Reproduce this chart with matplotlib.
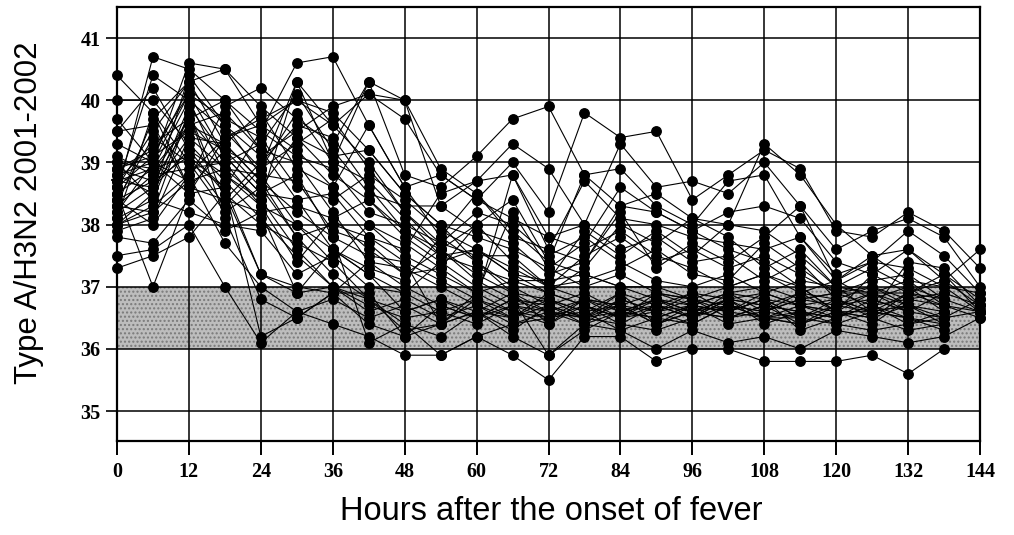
import numpy as np
import matplotlib
matplotlib.use("Agg")
import matplotlib.pyplot as plt

n = np.nan
hours = [0, 6, 12, 18, 24, 30, 36, 42, 48, 54, 60, 66, 72, 78, 84, 90, 96, 102, 108, 114, 120, 126, 132, 138, 144]
xtick_labels = ["0", "12", "24", "36", "48", "60", "72", "84", "96", "108", "120", "132", "144"]
ytick_values = [35, 36, 37, 38, 39, 40, 41]
normal_low, normal_high = 36.0, 37.0

# body temperature of each patient (deg C), one row per patient, one value per 6 h
patients = [
    [38.2, 38.6, 39.4, 38.9, 38.4, 37.6, 37.0, 36.7, 36.5, 36.6, 36.4, 36.7, 36.5, 36.8, 36.6, 36.5, 36.7, 36.6, 36.8, 36.5, n, n, n, n, n],
    [38.9, 39.1, 40.2, 39.6, 38.8, 38.0, 37.4, 36.8, 36.4, 36.2, 36.6, 36.5, 36.7, 36.4, 36.6, 36.8, 36.5, 36.7, n, n, n, n, n, n, n],
    [40.4, 39.8, 39.0, 38.6, 37.2, 36.9, 37.0, 36.6, 36.8, 36.5, 36.7, 36.4, 36.6, 36.5, 36.7, 36.4, 36.6, 36.8, 36.5, 36.4, 36.6, n, n, n, n],
    [38.5, 40.7, 40.5, 40.0, 39.2, 38.4, 37.6, 37.2, 36.9, 36.6, 36.8, 36.6, 36.4, 36.7, 36.5, 36.6, 36.8, 36.7, 36.6, 36.8, 36.7, 36.6, 36.5, n, n],
    [39.0, 38.4, 39.8, 38.1, 36.8, 36.5, 36.9, 36.4, 36.2, 36.7, 36.5, 36.8, 35.9, 36.3, 36.6, 36.7, 36.5, 36.8, 36.4, 36.6, 36.5, n, n, n, n],
    [37.5, 37.6, 38.0, 37.0, 36.1, 36.6, 36.8, 36.5, 36.7, 36.4, 36.6, 36.3, 36.7, 36.5, 36.4, 36.7, 36.6, 36.5, 36.7, 36.6, n, n, n, n, n],
    [38.3, 39.7, 40.3, 39.3, 38.7, 37.8, 37.2, 36.8, 36.6, 36.8, 36.5, 36.7, 36.6, 36.4, 36.8, 36.6, 36.4, 36.7, 36.5, 36.7, 36.6, 36.5, 36.7, 36.6, n],
    [38.7, 38.9, 39.6, 39.8, 39.2, 39.0, 38.2, 37.4, 37.0, 36.7, 36.5, 36.8, 36.7, 36.5, 36.6, 36.5, 36.7, 36.6, 36.8, 36.5, 36.7, 36.8, 36.6, 36.5, 36.6],
    [38.0, 38.3, 38.8, 39.4, 39.6, 39.2, 38.6, 38.0, 37.5, 37.2, 36.9, 36.6, 36.5, 36.7, 36.5, 36.8, 36.6, 36.7, 36.6, 36.5, 36.8, 36.6, 36.7, n, n],
    [39.3, 39.0, 40.6, 40.5, 39.9, 39.4, 38.8, 38.4, 37.8, 37.4, 37.0, 36.7, 36.8, 36.6, 36.9, 36.7, 36.5, 36.8, 36.7, 36.6, 36.5, 36.7, 36.4, 36.6, n],
    [38.6, 40.4, 40.0, 39.5, 38.9, 40.3, 39.6, 39.0, 38.2, 37.6, 37.2, 36.9, 36.6, 36.8, 36.5, 36.7, 36.9, 36.6, 36.8, 36.7, 36.6, 36.9, 36.7, 36.5, 36.8],
    [37.3, 37.5, 37.8, 38.5, 37.2, 37.0, 36.9, 37.4, 37.3, 37.0, 36.7, 36.5, 36.8, 36.6, 36.7, 36.4, 36.6, 36.5, 36.7, 36.4, 36.6, 36.5, 36.3, 36.4, n],
    [38.4, 38.7, 39.1, 38.6, 39.5, 40.6, 40.7, 39.6, 38.6, 37.8, 37.4, 37.0, 36.7, 36.9, 36.6, 36.8, 36.7, 36.9, 36.6, 36.8, 36.9, 36.7, 36.8, 36.7, 36.6],
    [39.5, 40.2, 39.2, 38.8, 38.3, 37.4, 38.1, 37.6, 37.2, 37.6, 37.1, 36.8, 36.6, 36.5, 36.8, 36.6, 36.7, 36.6, 36.9, 36.7, 36.5, 36.8, 36.6, n, n],
    [38.8, 38.5, 39.9, 39.1, 38.5, 38.8, 37.8, 36.1, 36.4, 35.9, 36.2, 36.4, 36.5, 36.6, 36.3, 36.5, 36.4, 36.7, 36.5, 36.6, 36.4, 36.6, 36.5, 36.4, n],
    [38.1, 39.8, 38.6, 38.4, 39.0, 39.6, 39.4, 38.6, 37.9, 37.5, 37.3, 37.1, 36.9, 36.7, 36.5, 36.9, 36.8, 36.5, 36.6, 36.9, 36.8, 36.5, 36.9, 36.8, n],
    [37.8, 37.7, 38.4, 37.9, 38.2, 36.9, 37.6, 37.2, 36.6, 36.8, 36.6, 36.9, 36.4, 36.8, 36.7, 36.9, 36.8, 36.6, 36.5, 36.4, 36.7, 36.9, 36.6, 36.9, 36.7],
    [38.9, 39.2, 40.1, 39.7, 39.4, 38.6, 38.4, 38.8, 38.4, 37.9, 37.6, 37.3, 37.0, 36.8, 36.7, 36.6, 36.9, 36.8, 36.7, 36.9, 36.6, 36.4, 36.8, n, n],
    [40.0, 40.0, 39.3, 38.7, 38.1, 37.5, 37.0, 36.8, 36.3, 36.4, 36.8, 36.5, 36.9, 36.7, 36.4, 36.3, 36.5, 36.9, 36.8, 36.3, 36.5, 36.7, 36.5, 36.3, n],
    [38.6, 39.1, 39.5, 39.2, 38.9, 39.8, 39.0, 40.3, 40.0, 38.9, 38.5, 37.9, 37.4, 37.2, 37.0, 36.8, 36.6, 36.8, 36.9, 36.7, 36.8, 36.6, 36.9, 36.7, 36.5],
    [39.7, 39.0, 38.5, 39.4, 39.7, 40.0, 39.8, 39.2, 38.5, 38.0, 37.8, 37.6, 37.3, 37.0, 37.2, 36.9, 36.7, 36.9, 37.0, 36.8, 36.9, 37.0, 36.8, 36.9, n],
    [38.3, 38.8, 39.7, 40.0, 39.5, 39.1, 38.9, 38.2, 38.0, 37.7, 38.2, 38.0, 37.5, 37.8, 37.4, 37.1, 37.0, 37.2, 36.9, 37.1, 37.0, 36.9, 37.1, 37.0, 36.9],
    [38.0, 38.5, 40.4, 39.6, 39.1, 39.5, 39.9, 40.1, 39.7, 38.8, 38.4, 38.1, 37.8, 37.6, 37.9, 37.5, 37.3, 37.0, 37.2, 36.9, 37.1, 36.8, 37.0, 36.6, n],
    [38.4, 39.4, 39.0, 38.2, 38.6, 37.8, 38.0, 37.8, 37.6, 38.5, 38.7, 39.3, 38.9, 38.0, 37.6, 37.8, 37.4, 37.5, 37.1, 37.4, 36.8, 37.0, 36.7, n, n],
    [39.1, 38.8, 38.9, 39.0, 39.3, 40.1, 39.2, 38.5, 38.3, 38.3, 37.9, 37.7, 37.2, 37.4, 38.3, 38.2, 37.9, 37.6, 37.4, 37.0, 36.6, 37.2, 36.9, 37.1, 36.7],
    [38.7, 38.6, 39.2, 38.5, 38.0, 37.7, 37.4, 38.0, 37.7, 37.3, 38.0, 37.4, 37.0, 37.5, 37.8, 37.4, 37.6, 37.3, 37.5, 37.2, 36.9, 37.1, 37.2, 36.8, n],
    [37.9, 38.1, 39.4, 39.3, 38.7, 38.2, 37.8, 37.5, 37.4, 37.1, 36.8, 38.8, 37.6, 38.7, 38.1, 38.0, 37.8, 37.7, 37.6, 37.8, 37.1, 37.4, 37.3, 37.0, 36.6],
    [38.5, 38.9, 40.0, 38.8, 38.4, 40.3, 39.0, 38.7, 38.1, 37.5, 37.6, 37.2, 36.9, 37.3, 38.0, 37.7, 38.1, 37.8, 37.3, 37.6, 37.0, 37.3, 37.0, 36.8, 36.6],
    [38.2, 39.0, 38.7, 39.9, 40.2, 39.7, 39.3, 40.3, 38.8, 38.6, 39.1, 39.7, 39.9, 38.8, 38.3, 38.5, 38.1, 38.0, 39.3, 38.8, 38.0, 37.5, 37.6, 37.1, 37.6],
    [38.9, 38.7, 39.6, 39.3, 39.8, 38.9, 38.6, 39.6, 38.6, 38.8, 38.4, 39.0, 38.2, 39.8, 39.4, 39.5, 38.4, 38.8, 39.2, 38.9, 37.9, 37.8, 38.2, 37.9, 37.3],
    [38.6, 39.5, 40.3, 40.5, 39.6, 40.0, 39.6, 40.1, 40.0, 38.3, 38.7, 38.8, 37.8, 38.0, 39.3, 38.6, 38.7, 38.5, 39.0, 38.3, 37.6, 37.9, 38.1, 37.8, 37.0],
    [38.3, 38.2, 39.8, 38.4, 38.2, 38.3, 38.1, 38.4, 37.9, 37.6, 38.0, 38.4, 37.4, 38.8, 38.9, 38.3, 38.0, 38.7, 38.8, 37.8, 37.2, 37.4, 37.9, 37.5, 36.9],
    [38.8, 39.0, 40.1, 39.1, 38.5, 38.4, 38.5, 37.8, 37.4, 36.4, 36.9, 38.2, 37.3, 37.7, 38.6, 38.2, 37.9, 38.2, 38.3, 38.1, 37.4, 37.2, 37.6, 37.2, 36.8],
    [38.1, 38.4, 38.2, 38.0, 37.9, 37.2, 37.5, 37.0, 36.9, 37.4, 37.6, 37.2, 37.1, 37.9, 37.5, 37.9, 37.5, 38.0, 37.9, 37.5, 37.0, 36.6, 37.4, 37.3, 36.7],
    [38.7, 39.3, 39.7, 39.0, 38.3, 38.0, 37.6, 37.3, 37.1, 37.8, 38.5, 37.8, 37.6, 37.4, 38.2, 37.3, 37.7, 37.4, 37.8, 38.3, 37.1, 37.5, 37.1, 36.7, n],
    [39.0, 38.9, 39.1, 38.3, 38.9, 39.3, 39.7, 38.9, 38.2, 37.7, 37.5, 37.5, 37.0, 37.1, 37.3, 37.6, 37.2, 37.1, 37.7, 37.3, 36.9, 36.9, 36.9, 37.2, 36.6],
    [38.4, 38.0, 38.8, 37.7, 37.0, 36.6, 36.4, 36.2, 35.9, 35.9, 36.2, 35.9, 35.5, 36.2, 36.2, 35.8, 36.0, 36.0, 35.8, 35.8, 35.8, 35.9, 35.6, 36.0, n],
    [38.5, 37.0, 38.5, 38.6, 36.2, 36.5, 36.9, 36.9, 36.2, 36.4, 36.6, 36.2, 35.9, 36.4, 36.3, 36.0, 36.3, 36.1, 36.2, 36.0, 36.3, 36.2, 36.1, 36.2, 36.5],
    [39.5, 39.6, 38.6, 39.2, 38.6, 39.4, 39.1, 39.2, 38.5, 38.0, 37.4, 36.9, 36.8, 36.5, 36.9, 36.4, 36.7, 36.4, 36.5, 36.5, 36.4, 36.3, 36.4, 36.5, n],
    [38.0, 38.2, 38.7, 38.9, 38.8, 38.7, 37.9, 37.7, 37.2, 37.3, 36.9, 37.1, 37.1, 37.2, 37.0, 37.0, 36.8, 37.0, 37.2, 37.0, 36.6, 36.6, 36.7, 36.4, n],
]

W, H = 1014, 535
fig = plt.figure(figsize=(W / 100, H / 100), dpi=100)
ax = fig.add_axes([117 / W, 1 - 441 / H, (980 - 117) / W, (441 - 7) / H])

ax.set_xlim(0, 144)
ax.set_ylim(34.52, 41.5)

# normal range band
ax.fill_between([0, 144], normal_low, normal_high, facecolor="#bdbdbd",
                edgecolor="#7a7a7a", linewidth=0, hatch="....", zorder=1)

# grid
for xv in range(0, 145, 12):
    ax.axvline(xv, color="black", lw=1.1, zorder=2)
for yv in ytick_values:
    ax.axhline(yv, color="black", lw=1.1, zorder=2)

for row in patients:
    ax.plot(hours, row, color="black", lw=0.8, marker="o", ms=6.8,
            mfc="black", mec="black", zorder=3, clip_on=False)

# small marks on both vertical axes
ax.plot([0], [38.72], marker="_", ms=9, color="black", mew=1.2, clip_on=False, zorder=4)
ax.plot([144], [36.65], marker="+", ms=9, color="black", mew=1.2, clip_on=False, zorder=4)

ax.set_xticks(range(0, 145, 12))
ax.set_xticklabels(xtick_labels)
ax.set_yticks(ytick_values)
ax.set_yticklabels([str(v) for v in ytick_values])
for lab in ax.get_xticklabels() + ax.get_yticklabels():
    lab.set_fontfamily("Liberation Serif")
    lab.set_fontweight("bold")
    lab.set_fontsize(14.5)
ax.tick_params(axis="x", direction="out", length=10, width=1.4, pad=5)
ax.tick_params(axis="y", direction="out", length=8, width=1.2, pad=4)
for s in ax.spines.values():
    s.set_linewidth(1.6)
    s.set_zorder(5)

fig.text(29 / W, 1 - 213 / H, "Type A/H3N2 2001-2002", rotation=90,
         ha="center", va="center", fontsize=22.5, family="Liberation Sans")
fig.text(551 / W, 1 - 512 / H, "Hours after the onset of fever",
         ha="center", va="center", fontsize=23.5, family="Liberation Sans")

fig.savefig("out.png", dpi=100)
